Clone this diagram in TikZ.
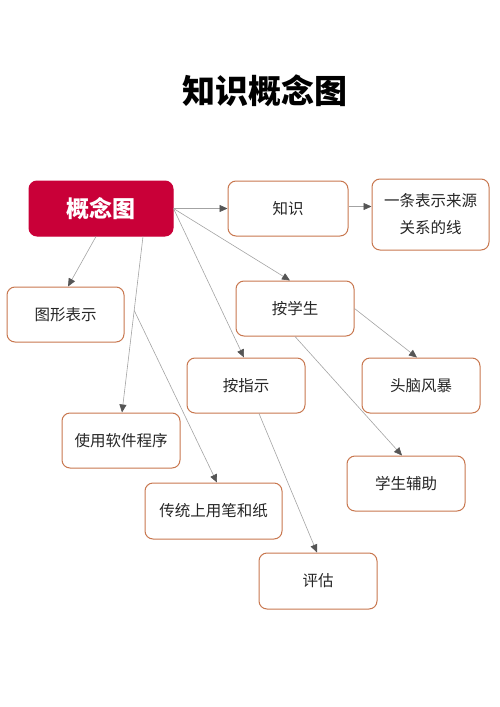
\documentclass[tikz,border=0pt]{standalone}
\usepackage{fontspec}
\setmainfont{Noto Sans CJK SC}
\usepackage{xcolor}
\definecolor{conceptred}{HTML}{C90038}
\definecolor{boxline}{HTML}{C8774F}
\definecolor{edgegray}{HTML}{A3A3A3}
\definecolor{tipgray}{HTML}{555555}
\usetikzlibrary{positioning, arrows.meta, shapes}
\tikzstyle{arrow} = [draw=edgegray, line width=0.6pt, -{Triangle[length=8pt,width=7pt,color=tipgray]}]

\begin{document}
\begin{tikzpicture}[x=1pt,y=-1pt]
        \tikzstyle{every node}=[font=\fontsize{15.5}{27}\selectfont, text=black!85]
        \tikzstyle{vertex} = [rectangle, rounded corners=8pt, draw=boxline, line width=1pt, fill=white, minimum width=118pt, minimum height=55pt, inner sep=0pt, align=center]
        \tikzstyle{mainvertex} = [vertex, draw=conceptred, fill=conceptred, text=white, font=\fontsize{23}{26}\selectfont\bfseries]

        \useasboundingbox (0,0) rectangle (500,707);

        % title
        \node[font=\fontsize{33}{36}\selectfont\bfseries, text=black](t1) at (265,91) {知识概念图};

        \node[mainvertex, minimum width=144pt](v1) at (101,208.5) {概念图};
        \node[vertex, minimum width=120pt](v2) at (288,208.5) {知识};
        \node[vertex, minimum width=117pt, minimum height=71pt](v3) at (430.5,214.5) {一条表示来源\\关系的线};
        \node[vertex, minimum width=117pt](v4) at (65.5,314.5) {图形表示};
        \node[vertex](v5) at (295,308.5) {按学生};
        \node[vertex](v6) at (246,385.5) {按指示};
        \node[vertex](v7) at (421,385.5) {头脑风暴};
        \node[vertex](v8) at (121,440.5) {使用软件程序};
        \node[vertex](v9) at (406,483.5) {学生辅助};
        \node[vertex, minimum width=137pt, minimum height=56pt](v10) at (213.5,511) {传统上用笔和纸};
        \node[vertex, minimum height=56pt](v11) at (318,581) {评估};

        % edges from v1
        \draw[arrow] (v1.east) -- (v2.west);
        \draw[arrow] (v1.east) -- ([xshift=-5pt]v5.north);
        \draw[arrow] (v1.east) -- ([xshift=-2pt]v6.north);
        \draw[arrow] ([xshift=-5pt]v1.south) -- ([xshift=2.5pt]v4.north);
        \draw[arrow] ([xshift=42pt]v1.south) -- coordinate[pos=0.42](b1) ([xshift=1pt]v8.north);

        % branch to v10
        \draw[arrow] (b1) -- ([xshift=3.5pt]v10.north);

        % other edges
        \draw[arrow] ([yshift=2pt]v2.east) -- ([yshift=2pt]v2.east -| v3.west);
        \draw[arrow] (v5.east) -- ([xshift=-4pt]v7.north);
        \draw[arrow] (v5.south) -- ([xshift=-4pt]v9.north);
        \draw[arrow] ([xshift=13pt]v6.south) -- ([xshift=-1pt]v11.north);
\end{tikzpicture}
\end{document}
